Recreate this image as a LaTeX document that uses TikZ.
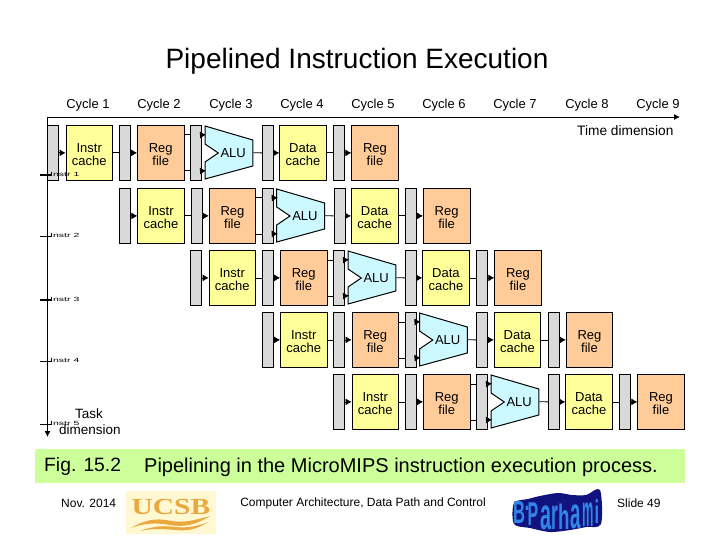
\documentclass[tikz,border=0pt]{standalone}
\usepackage{fontspec}
\usepackage{graphicx}
\setmainfont{Liberation Sans}
\usetikzlibrary{arrows.meta}
\definecolor{latchgray}{HTML}{D9D9D9}
\definecolor{cacheyellow}{HTML}{FFFF99}
\definecolor{regorange}{HTML}{FFCC99}
\definecolor{alucyan}{HTML}{CCF8FF}
\definecolor{capgreen}{HTML}{CCFF99}
\definecolor{logobg}{HTML}{FFF8D2}
\definecolor{logoor}{HTML}{EBA83F}
\definecolor{wordblue}{HTML}{2F86E6}
\definecolor{worddark}{HTML}{12127E}
\newcommand\twolines[2]{\rule{0pt}{13pt}#1\\#2}
\tikzset{
  sz/.style={font=\fontsize{#1}{#1}\selectfont},
  latch/.style={draw=black,line width=.8pt,fill=latchgray,minimum width=11pt,minimum height=55pt,inner sep=0pt,anchor=north west},
  unitbox/.style={draw=black,line width=.8pt,minimum width=46.5pt,minimum height=55pt,inner sep=0pt,anchor=north west,align=center,font=\fontsize{13}{13}\selectfont},
  cachebox/.style={unitbox,fill=cacheyellow},
  regbox/.style={unitbox,fill=regorange},
  alubox/.style={minimum width=48pt,minimum height=55pt,inner sep=0pt,anchor=north west,font=\fontsize{13}{13}\selectfont},
  alushape/.style={draw=black,line width=1pt,fill=alucyan},
  wire/.style={draw=black,line width=.8pt},
  feed/.style={draw=black,line width=.8pt,-{Latex[length=6pt,width=7pt]}},
  axis/.style={draw=black,line width=.9pt,-{Latex[length=6pt,width=6pt]}},
  lab/.style={sz=13,inner sep=0pt},
}
\begin{document}
\begin{tikzpicture}[x=1pt,y=-1pt]
\useasboundingbox (0,0) rectangle (720,540);
\fill[white] (0,0) rectangle (720,540);

\node[sz=28,inner sep=0pt] (title) at (357,61) {Pipelined Instruction Execution};

% cycle labels
\foreach \n/\cx in {1/88,2/159,3/231,4/302,5/373,6/444,7/515,8/587,9/658}
  \node[lab] (cyc\n) at (\cx,105) {Cycle \n};

% axes
\coordinate (org) at (47.5,117);
\coordinate (tend) at (680,117);
\coordinate (dend) at (47.5,437);

% pipeline rows
\foreach \r/\xx/\yy in {1/47.3/125,2/119/188,3/190.3/250,4/261.8/312,5/333.3/374}{
  \node[latch] (L\r a) at (\xx,\yy) {};
  \node[cachebox] (I\r) at (\xx+18.3,\yy) {\twolines{Instr}{cache}};
  \node[latch] (L\r b) at (\xx+71.6,\yy) {};
  \node[regbox] (R\r) at (\xx+89.8,\yy) {\twolines{Reg}{file}};
  \node[latch] (L\r c) at (\xx+143,\yy) {};
  \path[alushape] (\xx+157.7,\yy+1) -- (\xx+205.5,\yy+15) -- (\xx+205.5,\yy+41) -- (\xx+157.7,\yy+54)
      -- (\xx+157.7,\yy+37) -- (\xx+171,\yy+28) -- (\xx+157.7,\yy+19) -- cycle;
  \node[alubox] (A\r) at (\xx+157.7,\yy) {\hspace*{8pt}\raisebox{-2.5pt}{ALU}};
  \node[latch] (L\r d) at (\xx+214.6,\yy) {};
  \node[cachebox] (D\r) at (\xx+232,\yy) {\twolines{Data}{cache}};
  \node[latch] (L\r e) at (\xx+286,\yy) {};
  \node[regbox] (W\r) at (\xx+304,\yy) {\twolines{Reg}{file}};
  \draw[feed] (L\r a.east) -- (I\r.west);
  \draw[wire] (I\r.east) -- (L\r b.west);
  \draw[feed] (L\r b.east) -- (R\r.west);
  \draw[wire] ([yshift=18pt]R\r.east) -- ([yshift=18pt]L\r c.west);
  \draw[wire] ([yshift=-18pt]R\r.east) -- ([yshift=-18pt]L\r c.west);
  \draw[feed] ([yshift=18pt]L\r c.east) -- ([yshift=18pt,xshift=1pt]A\r.west);
  \draw[feed] ([yshift=-18pt]L\r c.east) -- ([yshift=-18pt,xshift=1pt]A\r.west);
  \draw[wire] (A\r.east) -- (L\r d.west);
  \draw[feed] (L\r d.east) -- (D\r.west);
  \draw[wire] (D\r.east) -- (L\r e.west);
  \draw[feed] (L\r e.east) -- (W\r.west);
}

\draw[axis] (org) -- (tend);
\draw[axis] (org) -- (dend);

% task ticks and their small labels
\foreach \n/\ty/\tw in {1/175/1.5,2/236/.8,3/300/1.5,4/361/.8,5/424/.8}{
  \coordinate (tk\n) at (40,\ty);
  \coordinate (tj\n) at (52,\ty);
  \draw[draw=black,line width=\tw pt] (tk\n) -- (tj\n);
  \node[inner sep=0pt,anchor=west,sz=7.5] (task\n) at (50,\ty-.5) {\scalebox{1.4}[.8]{Instr \n}};
}

\node[sz=13.7,inner sep=0pt,anchor=west] (timedim) at (577,131) {Time dimension};
\node[sz=13.5,inner sep=0pt,anchor=west] (tasklab) at (75,414) {Task};
\node[sz=13.5,inner sep=0pt,anchor=west] (dimlab) at (59,430) {dimension};

% caption
\fill[capgreen] (35,449) rectangle (685,483);
\node[sz=19.3,inner sep=0pt,anchor=west] (figno) at (44,467) {Fig. 15.2};
\node[sz=20,inner sep=0pt,anchor=west] (figcap) at (144,467) {Pipelining in the MicroMIPS instruction execution process.};

% footer
\node[sz=12,inner sep=0pt,anchor=west] (date) at (61,503) {Nov. 2014};
\node[sz=12,inner sep=0pt] (course) at (363,503) {Computer Architecture, Data Path and Control};
\node[sz=12,inner sep=0pt,anchor=west] (slide) at (617,503) {Slide 49};

% UCSB logo
\fill[logobg] (126,491) rectangle (216,534);
\node[inner sep=0pt,text=logoor,font=\fontsize{23}{23}\selectfont\fontspec{Liberation Serif}\bfseries] (ucsb) at (171,507) {\scalebox{1.28}[1]{UCSB}};
\fill[logoor] (131,528) .. controls (150,517) and (160,519) .. (172,521) .. controls (182,523) and (192,521) .. (210,516)
   .. controls (194,526) and (182,527) .. (170,525) .. controls (158,523) and (148,522) .. (131,528) -- cycle;
\fill[logoor] (140,531) .. controls (156,525) and (166,526) .. (176,527) .. controls (186,528) and (196,527) .. (208,522)
   .. controls (196,530) and (186,531) .. (176,530) .. controls (164,529) and (154,528) .. (140,531) -- cycle;

% B. Parhami wordmark
\fill[worddark] plot[smooth cycle,tension=.5] coordinates {(514,503) (528,499) (540,496) (558,493) (572,495) (586,495) (600,490) (601,524) (586,527) (570,530) (550,532) (530,528) (514,524)};
\foreach \i/\ch/\lx/\sx/\sy/\by in {1/B/519/.75/1.45/523,2/./527/.7/1.3/510,3/P/533/.72/1.5/525,4/a/546/.9/2.0/529,5/r/555/.8/2.0/529,6/h/564/.85/1.6/529,7/a/576/.85/2.0/528,8/m/588/.58/2.0/526,9/i/597/.75/1.5/523}{
  \node[inner sep=0pt,anchor=base,text=wordblue,font=\fontsize{22}{22}\selectfont\bfseries] (wt\i) at (\lx,\by) {\scalebox{\sx}[\sy]{\ch}};
}
\end{tikzpicture}
\end{document}
